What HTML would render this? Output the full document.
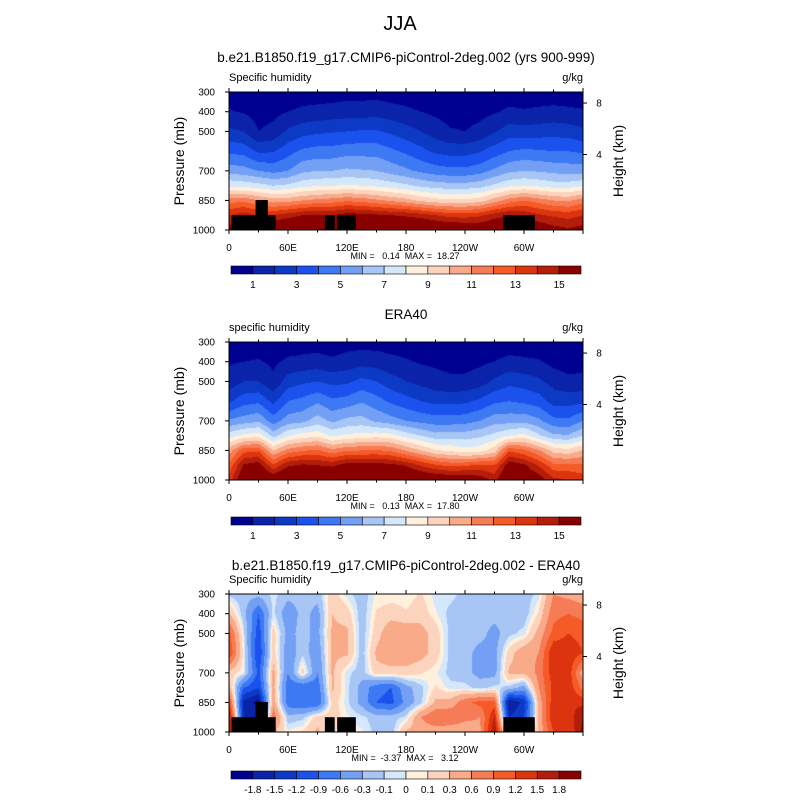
<!DOCTYPE html>
<html><head><meta charset="utf-8">
<style>
body{margin:0;background:#fff;}
#wrap{position:relative;width:800px;height:800px;background:#fff;font-family:"Liberation Sans",sans-serif;}
text{white-space:pre;}
</style></head>
<body>
<div id="wrap">
<svg id="svg" width="800" height="800" style="position:absolute;left:0;top:0"></svg>
</div>
<script>
// ---------- data ----------
const lons = [0,15,30,45,60,75,90,105,120,135,150,165,180,195,210,225,240,255,270,285,300,315,330,345,360];
const levels = [300,400,500,600,700,775,850,925,1000];
const modelQ = [
[.4,.4,.3,.3,.4,.5,.5,.5,.6,.6,.6,.5,.5,.4,.3,.3,.3,.3,.4,.4,.4,.4,.4,.4,.4],
[1.1,.9,.6,.7,1.0,1.2,1.3,1.4,1.5,1.5,1.6,1.4,1.2,1.0,.8,.6,.6,.7,.9,1.2,1.1,1.2,1.3,1.2,1.1],
[2.2,2.0,1.0,1.3,2.2,2.6,2.8,2.9,3.0,3.1,3.1,2.8,2.4,2.0,1.5,1.1,1.0,1.3,1.9,2.5,2.4,2.5,2.6,2.5,2.2],
[3.8,3.6,2.8,2.9,3.6,4.2,4.4,4.4,4.6,4.6,4.6,4.2,3.8,3.3,2.8,2.6,2.6,2.9,3.5,4.0,4.2,4.1,4.0,4.0,3.8],
[5.6,5.4,5.0,4.7,5.0,5.8,6.0,6.0,6.2,6.1,6.0,5.6,5.2,4.8,4.5,4.3,4.3,4.6,5.2,5.8,6.0,5.9,5.7,5.6,5.6],
[7.8,7.6,7.4,7.0,7.2,7.7,7.9,8.0,8.1,8.0,7.8,7.5,7.2,6.8,6.5,6.4,6.4,6.6,7.2,7.8,8.0,7.8,7.5,7.5,7.8],
[11.5,11.8,11,10.5,10.6,11,11.3,11.5,11.8,11.6,11.2,10.8,10.4,9.8,9.4,9.2,9.2,9.5,10.5,11.5,12,11.5,11,10.8,11.5],
[14,14.5,14,14,14.5,15,15.2,15,15.5,15.4,15.2,15,14.8,14.5,14,13.6,13.5,13.8,14.5,15,14.8,14.2,13.8,13.6,14],
[15.5,16,16,16.5,17,17.2,17.2,17,17.5,17.6,17.6,17.4,17.2,17,16.8,16.5,16.5,16.2,16.5,16.8,16.5,16,15.5,15.2,15.5]
];
const obsQ = [
[.4,.4,.4,.3,.4,.5,.5,.4,.6,.6,.6,.5,.5,.4,.4,.3,.3,.3,.4,.4,.4,.3,.3,.3,.3],
[.9,1.0,1.1,.8,1.2,1.3,1.4,1.2,1.4,1.6,1.5,1.3,1.1,.9,.8,.7,.7,.8,1.0,1.3,1.2,1.1,.7,.5,.6],
[1.4,2.0,2.0,1.2,2.5,2.8,3.0,2.7,2.8,3.3,3.0,2.4,2.0,1.7,1.4,1.2,1.2,1.5,2.2,2.7,2.5,2.2,1.6,1.3,1.3],
[2.8,3.6,3.8,2.7,4.0,4.3,4.8,4.2,4.4,4.9,4.4,3.8,3.4,3.0,2.7,2.7,2.8,3.2,3.8,4.0,3.8,3.5,2.6,2.6,2.7],
[5.2,5.5,5.8,4.5,5.5,5.7,6.5,5.8,6.3,6.4,5.8,5.4,5.0,4.7,4.5,4.5,4.6,5.0,5.6,5.6,5.7,5.2,4.3,4.2,5.0],
[7.5,8.3,8.6,6.6,7.9,8.5,8.7,7.8,8.2,8.4,8.6,8.4,7.6,7.0,6.4,6.5,6.5,6.8,7.3,8.0,8.4,7.2,6.2,6.1,7.0],
[10.5,12.6,12.8,10.0,11.4,11.9,12.2,11.3,11.9,12.0,12.1,11.8,10.9,10.0,9.1,8.8,8.4,8.5,9.5,12.8,12.2,11.1,9.6,9.3,10.1],
[12.2,15.2,15.6,13.2,14.8,15.2,15,14.8,15.5,15.5,15.5,15.3,14.9,13.9,13.1,12.7,12.8,13.2,13,15.8,15.2,13.9,12.3,12.3,12.2],
[13.6,16.2,16.8,16.2,17,17.1,16.9,16.9,17.5,17.6,17.8,17.7,16.9,16.6,16.4,16.2,16.2,15.7,14.7,16.8,16.4,15.7,14.3,14.0,13.6]
];
const diffQ = [
[-0.15,-0.2,-0.2,-0.05,-0.2,-0.2,-0.2,0.2,-0.05,-0.2,0.02,0.02,0.02,0.12,-0.05,-0.05,-0.15,-0.15,-0.15,-0.2,-0.2,-0.05,0.6,0.5,0.4],
[0.3,-0.2,-0.9,-0.05,-0.5,-0.2,-0.4,0.3,0.2,-0.2,0.12,0.2,0.12,0.2,0.02,-0.15,-0.2,-0.2,-0.2,-0.2,-0.2,0.12,0.8,0.9,0.8],
[1.0,-0.05,-1.1,0.2,-0.4,-0.2,-0.4,0.35,0.35,-0.2,0.2,0.5,0.5,0.4,0.2,-0.15,-0.2,-0.2,-0.4,-0.15,-0.05,0.4,1.0,1.2,1.1],
[1.2,0.02,-1.2,0.2,-0.5,-0.15,-0.5,0.35,0.35,-0.2,0.35,0.5,0.5,0.4,0.2,-0.15,-0.2,-0.4,-0.4,0.2,0.5,0.6,1.5,1.4,1.2],
[0.2,0.02,-1.0,0.4,-0.6,0.2,-0.6,0.35,-0.05,-0.2,0.2,0.2,0.2,0.12,0.02,-0.15,-0.2,-0.4,-0.4,0.35,0.35,0.7,1.4,1.4,0.4],
[0.4,-0.9,-1.2,0.4,-0.8,-0.9,-0.8,0.35,-0.05,-0.4,-0.8,-0.9,-0.4,-0.15,0.12,-0.05,-0.05,-0.15,-0.05,-0.15,-0.4,0.6,1.3,1.4,0.8],
[1.2,-1.6,-1.9,0.5,-0.8,-0.9,-0.9,0.2,-0.05,-0.4,-0.9,-1.0,-0.5,-0.15,0.35,0.4,0.8,1.0,1.0,-1.8,-1.4,0.4,1.4,1.5,1.4],
[1.8,-1.5,-1.6,0.8,-0.2,-0.15,0.2,0.2,0.02,-0.05,-0.2,-0.2,-0.05,0.6,0.9,0.9,0.7,0.6,1.5,-1.5,-1.2,0.35,1.5,1.3,1.8],
[1.9,-0.5,-0.8,0.35,0.02,0.12,0.35,0.12,0.02,0.02,-0.15,-0.2,0.35,0.4,0.4,0.35,0.35,0.5,1.8,-0.4,-0.15,0.35,1.2,1.2,1.9]
];
const qBounds = [1,2,3,4,5,6,7,8,9,10,11,12,13,14,15];
const qLabels = ["1","3","5","7","9","11","13","15"];
const dBounds = [-1.8,-1.5,-1.2,-0.9,-0.6,-0.3,-0.1,0,0.1,0.3,0.6,0.9,1.2,1.5,1.8];
const dLabels = ["-1.8","-1.5","-1.2","-0.9","-0.6","-0.3","-0.1","0","0.1","0.3","0.6","0.9","1.2","1.5","1.8"];
const xTickVals = [0,60,120,180,240,300];
const xTickLabels = ["0","60E","120E","180","120W","60W"];
const yTickVals = [300,400,500,700,850,1000];
const hTickVals = [8,4];
const hTickPress = [356,617];
// topography boxes [lon0, lon1, pTop]
const topoLon0b = [2.6,27.0,97.5,110,279];
const topoLon1b = [47.5,39.5,107.5,129,311];
const topoTopb = [925,848,925,925,925];

const palette = ["#000090","#0a23a8","#0c3ac4","#1b52ee","#3c79f3","#73a0f4","#a7c5f5","#d4e7fb","#fff0dd","#fcd3bd","#f8aa89","#f57c57","#f65a26","#dc340f","#b31e0b","#8a0000"];

// ---------- layout ----------
const X0=229,X1=583,PH=138;
const panels=[{top:92,data:modelQ,b:qBounds,topo:true,cb:266,lab:qLabels,lb:"q",title:"b.e21.B1850.f19_g17.CMIP6-piControl-2deg.002 (yrs 900-999)",ty:62,left:"Specific humidity",mm:"MIN =   0.14  MAX =  18.27"},
{top:342,data:obsQ,b:qBounds,topo:false,cb:517,lab:qLabels,lb:"q",title:"ERA40",ty:319,left:"specific humidity",mm:"MIN =   0.13  MAX =  17.80"},
{top:594,data:diffQ,b:dBounds,topo:true,cb:771,lab:dLabels,lb:"d",title:"b.e21.B1850.f19_g17.CMIP6-piControl-2deg.002 - ERA40",ty:570,left:"Specific humidity",mm:"MIN =  -3.37  MAX =   3.12"}];
const xS=l=>X0+(l/360)*(X1-X0);
const yS=(p,top)=>top+(p-300)/700*PH;
const svg=document.getElementById('svg');
const NS="http://www.w3.org/2000/svg";
function mk(tag,attrs,parent){const e=document.createElementNS(NS,tag);for(const k in attrs)e.setAttribute(k,attrs[k]);(parent||svg).appendChild(e);return e;}
function txt(s,x,y,size,anchor,parent){const t=mk('text',{x:x,y:y,'font-size':size,'text-anchor':anchor||'middle','font-family':'Liberation Sans, sans-serif',fill:'#000'},parent);t.textContent=s;return t;}
function sample(data,lon,p){
  let i=0;while(i<lons.length-2&&lon>lons[i+1])i++;
  let j=0;while(j<levels.length-2&&p>levels[j+1])j++;
  const fx=(lon-lons[i])/(lons[i+1]-lons[i]);const fy=(p-levels[j])/(levels[j+1]-levels[j]);
  const a=data[j][i],b=data[j][i+1],c=data[j+1][i],d=data[j+1][i+1];
  return (a*(1-fx)+b*fx)*(1-fy)+(c*(1-fx)+d*fx)*fy;
}
function colorIdx(v,b){let k=0;while(k<b.length&&v>=b[k]-1e-9)k++;return k;}

const t=txt("JJA",400,30,20);



panels.forEach((P,pi)=>{
  const g=mk('g',{});
  
  
  const st=txt(P.title,406,P.ty,13.5,'middle',g);
  
  
  const lt=txt(P.left,229,P.top-11,11,'start',g);
  
  
  const ut=txt("g/kg",583,P.top-11,11,'end',g);
  
  
  const fo=mk('foreignObject',{x:X0,y:P.top,width:X1-X0,height:PH},g);
  const cv=document.createElement('canvas');cv.width=X1-X0;cv.height=PH;
  
  
  fo.appendChild(cv);
  const ctx=cv.getContext('2d');
  for(let px=0;px<cv.width;px++){for(let py=0;py<PH;py++){
    const lon=(px+0.5)/cv.width*360,p=300+(py+0.5)/PH*700;
    ctx.fillStyle=palette[colorIdx(sample(P.data,lon,p),P.b)];ctx.fillRect(px,py,1,1);}}
  if(P.topo){
    topoLon0b.forEach((l0,k)=>{
      const r=mk('rect',{x:xS(l0),y:yS(topoTopb[k],P.top),width:xS(topoLon1b[k])-xS(l0),height:yS(1000,P.top)-yS(topoTopb[k],P.top),fill:'#000'},g);
      
      
    });
  }
  const fr=mk('rect',{x:X0,y:P.top,width:X1-X0,height:PH,fill:'none',stroke:'#000','stroke-width':1},g);
  
  
  for(let l=0;l<=360;l+=30){
    const x=xS(l),major=l%60===0;
    mk('line',{x1:x,x2:x,y1:P.top+PH,y2:P.top+PH+(major?4:2.5),stroke:'#000'},g);
    mk('line',{x1:x,x2:x,y1:P.top,y2:P.top-(major?4:2.5),stroke:'#000'},g);
  }
  xTickVals.forEach((l,k)=>{const e=txt(xTickLabels[k],xS(l),P.top+PH+21,10,'middle',g);
    
    });
  yTickVals.forEach(p=>{const y=yS(p,P.top);mk('line',{x1:X0,x2:X0-4,y1:y,y2:y,stroke:'#000'},g);
    const e=txt(String(p),X0-14,y+3.5,10,'end',g);
    
    });
  hTickVals.forEach((h,k)=>{const y=yS(hTickPress[k],P.top);mk('line',{x1:X1,x2:X1+4,y1:y,y2:y,stroke:'#000'},g);
    const e=txt(String(h),X1+16,y+3.5,10,'middle',g);
    
    });
  const ya=txt("Pressure (mb)",0,0,14,'middle',g);ya.setAttribute('transform',`translate(184,${P.top+PH/2}) rotate(-90)`);
  
  
  const ha=txt("Height (km)",0,0,14,'middle',g);ha.setAttribute('transform',`translate(623,${P.top+PH/2}) rotate(-90)`);
  
  
  const mm=txt(P.mm,405,P.top+PH+29,9,'middle',g);
  
  
  const cbw=(581-231)/16;
  palette.forEach((c,k)=>{const r=mk('rect',{x:231+k*cbw,y:P.cb,width:cbw,height:8,fill:c,stroke:'#000','stroke-width':0.6},g);
    
    });
  if(P.lb==='q'){P.lab.forEach((s,k)=>{const e=txt(s,231+(2*k+1)*cbw,P.cb+22,10,'middle',g);
    
    });}
  else{P.lab.forEach((s,k)=>{const e=txt(s,231+(k+1)*cbw,P.cb+22,10,'middle',g);
    
    });}
});
</script>
</body></html>
